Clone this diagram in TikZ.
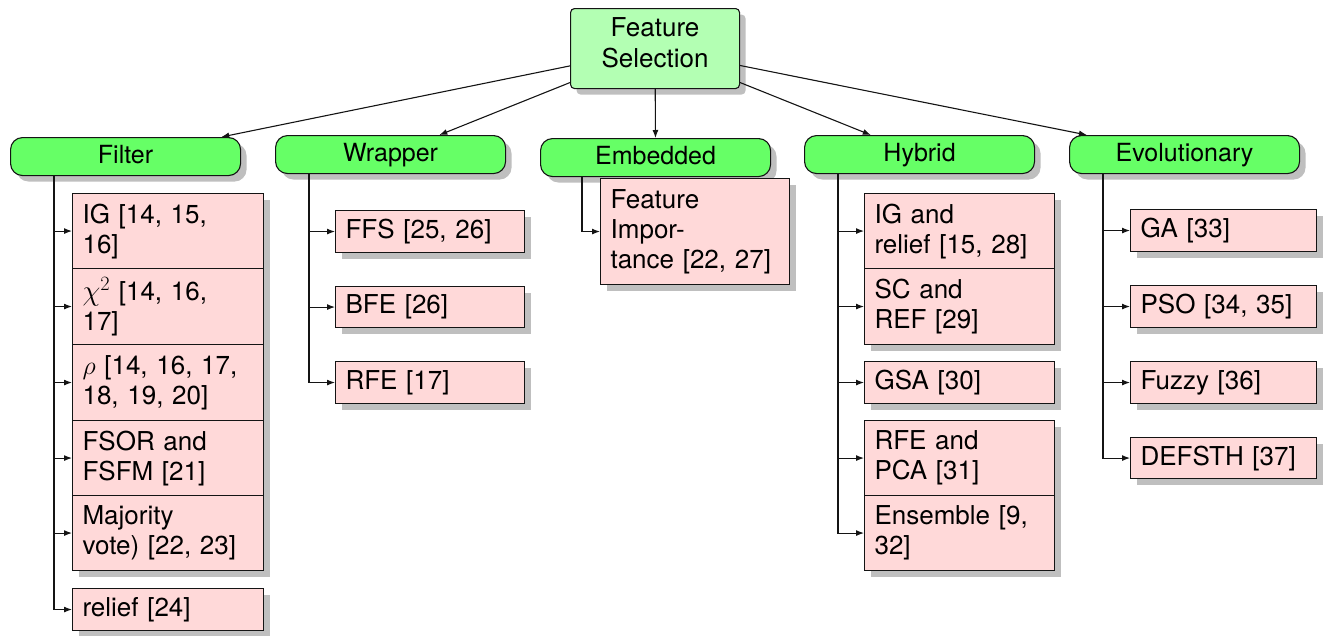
\RequirePackage{fix-cm}
\documentclass[tikz,border=0pt]{standalone}
\usepackage{fontspec}
\setmainfont{TeX Gyre Heros}
\usetikzlibrary{shadows,arrows.meta}

\definecolor{rootfill}{RGB}{179,255,179}
\definecolor{catfill}{RGB}{102,255,102}
\definecolor{leaffill}{RGB}{255,217,217}
\definecolor{shade}{RGB}{191,191,191}
\definecolor{edge}{RGB}{20,20,20}

\tikzset{
  box/.style={draw=edge, line width=1.1pt, anchor=north west, inner sep=0pt,
    drop shadow={shadow xshift=6pt, shadow yshift=-6pt, fill=shade, opacity=1}},
  rootbox/.style={box, fill=rootfill, rounded corners=4pt, align=center,
    font=\fontsize{26}{31}\selectfont, text height=50pt, text depth=12pt,
    minimum width=169pt, minimum height=80pt},
  catbox/.style={box, fill=catfill, rounded corners=12pt,
    font=\fontsize{25}{29}\selectfont, text height=18pt, text depth=5pt,
    minimum width=230pt, minimum height=38pt},
  leafbox/.style={box, fill=leaffill, align=left, inner xsep=10pt,
    font=\fontsize{26}{30}\selectfont},
  link/.style={draw=edge, line width=1.1pt, -{Latex[length=8pt,width=6pt]}}
}

\begin{document}
\begin{tikzpicture}[x=1pt, y=-1pt]
\useasboundingbox (0,0) rectangle (1327,635);

% root
\node[rootbox] (fs) at (570,8) {Feature\\Selection};

% categories
\node[catbox] (filter)   at (10,137)   {Filter};
\node[catbox] (wrapper)  at (275,135)  {Wrapper};
\node[catbox] (embedded) at (540,138)  {Embedded};
\node[catbox] (hybrid)   at (804,135)  {Hybrid};
\node[catbox] (evol)     at (1069,135) {Evolutionary};

\foreach \c in {filter,wrapper,embedded,hybrid,evol}
  \draw[link] (fs) -- (\c);

% filter methods
\node[leafbox, text width=171pt, minimum height=75pt] (ig)   at (72,193) {IG [14, 15,\\16]};
\node[leafbox, text width=171pt, minimum height=76pt] (chi)  at (72,268) {{\fontsize{29}{30}\selectfont$\chi^2$} [14, 16,\\17]};
\node[leafbox, text width=171pt, minimum height=76pt] (rho)  at (72,344) {$\rho$ [14, 16, 17,\\18, 19, 20]};
\node[leafbox, text width=171pt, minimum height=75pt] (fsor) at (72,420) {FSOR and\\FSFM [21]};
\node[leafbox, text width=171pt, minimum height=75pt] (maj)  at (72,495) {Majority\\vote) [22, 23]};
\node[leafbox, text width=171pt, minimum height=42pt] (rel)  at (72,588) {relief [24]};
\foreach \l in {ig,chi,rho,fsor,maj,rel}
  \draw[link] ([xshift=44pt]filter.south west) |- (\l.west);

% wrapper methods
\node[leafbox, text width=169pt, minimum height=42pt] (ffs) at (335,210) {FFS [25, 26]};
\node[leafbox, text width=169pt, minimum height=41pt] (bfe) at (335,286) {BFE [26]};
\node[leafbox, text width=169pt, minimum height=42pt] (rfe) at (335,361) {RFE [17]};
\foreach \l in {ffs,bfe,rfe}
  \draw[link] ([xshift=34pt]wrapper.south west) |- (\l.west);

% embedded methods
\node[leafbox, text width=169pt, minimum height=106pt] (imp) at (600,178) {Feature\\Impor-\\tance [22, 27]};
\draw[link] ([xshift=42pt]embedded.south west) |- (imp.west);

% hybrid methods
\node[leafbox, text width=170pt, minimum height=75pt] (igr)  at (864,193) {IG and\\relief [15, 28]};
\node[leafbox, text width=170pt, minimum height=76pt] (scr)  at (864,268) {SC and\\REF [29]};
\node[leafbox, text width=170pt, minimum height=42pt] (gsa)  at (864,361) {GSA [30]};
\node[leafbox, text width=170pt, minimum height=75pt] (rfep) at (864,420) {RFE and\\PCA [31]};
\node[leafbox, text width=170pt, minimum height=75pt] (ens)  at (864,495) {Ensemble [9,\\32]};
\foreach \l in {igr,scr,gsa,rfep,ens}
  \draw[link] ([xshift=34pt]hybrid.south west) |- (\l.west);

% evolutionary methods
\node[leafbox, text width=166pt, minimum height=42pt] (ga)     at (1130,209) {GA [33]};
\node[leafbox, text width=166pt, minimum height=42pt] (pso)    at (1130,285) {PSO [34, 35]};
\node[leafbox, text width=166pt, minimum height=42pt] (fuzzy)  at (1130,361) {Fuzzy [36]};
\node[leafbox, text width=166pt, minimum height=41pt] (defsth) at (1130,437) {DEFSTH [37]};
\foreach \l in {ga,pso,fuzzy,defsth}
  \draw[link] ([xshift=34pt]evol.south west) |- (\l.west);
\end{tikzpicture}
\end{document}
